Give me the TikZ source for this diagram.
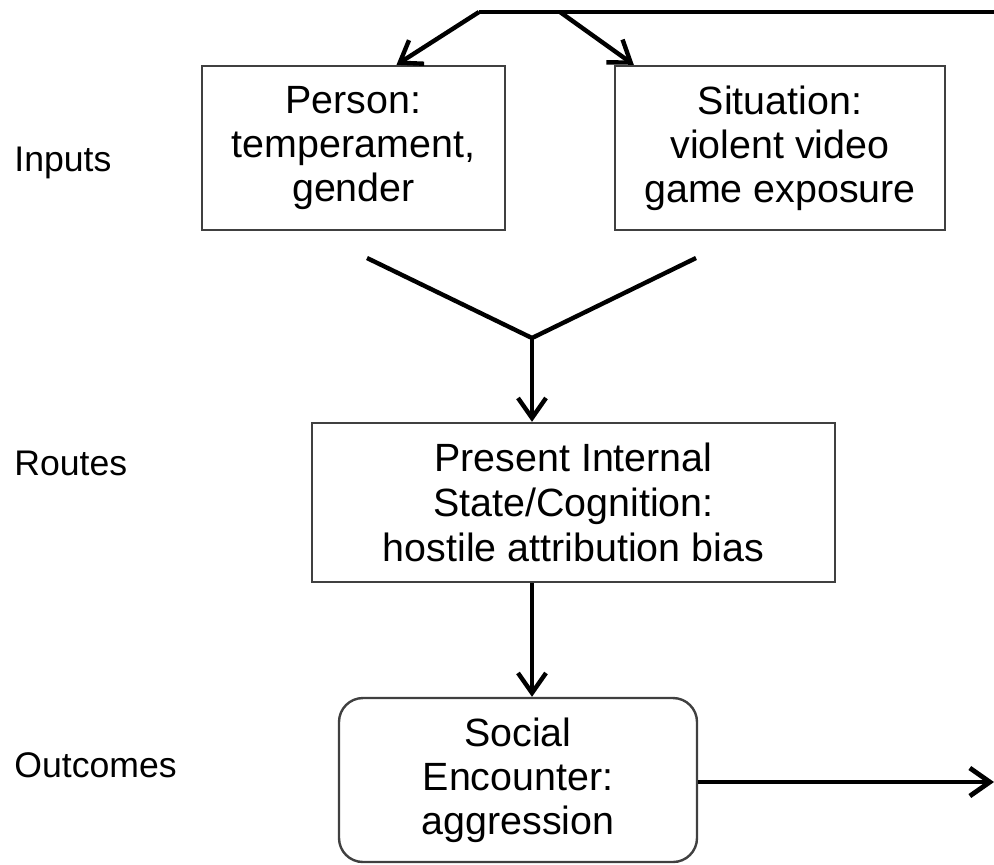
\documentclass[tikz,border=0pt]{standalone}
\usepackage{fontspec}
\setmainfont{Liberation Sans}
\usetikzlibrary{arrows.meta,calc,positioning}
\tikzstyle{inputbox} = [rectangle, minimum height=82pt, text centered, draw=black!75, line width=1.2pt, font=\fontsize{19.7}{22}\selectfont, align=center]
\tikzstyle{routebox} = [rectangle, minimum width=261.5pt, minimum height=79.5pt, text centered, draw=black!75, line width=1.2pt, font=\fontsize{19.7}{22.5}\selectfont, align=center]
\tikzstyle{outcomebox} = [rectangle, rounded corners=12pt, minimum width=179pt, minimum height=82pt, text centered, draw=black!75, line width=1.2pt, font=\fontsize{19.7}{22}\selectfont, align=center]
\tikzstyle{rowlabel} = [anchor=west, inner sep=0pt, font=\fontsize{17.8}{22}\selectfont]
\tikzstyle{arrow} = [line width=2.2pt,-{Straight Barb[length=10pt,width=14pt]}]
\tikzstyle{line} = [line width=2.2pt]

\begin{document}
\begin{tikzpicture}[x=0.5pt,y=-0.5pt]
\useasboundingbox (0,0) rectangle (994,864);

\node (person) [inputbox, minimum width=151.5pt] at (353.5,148) {Person:\\temperament,\\gender};
\node (situation) [inputbox, minimum width=165pt] at (780,148) {Situation:\\violent video\\game exposure};
\node (state) [routebox] at (573.5,502.5) {Present Internal\\State/Cognition:\\hostile attribution bias};
\node (social) [outcomebox] at (518,780) {Social\\Encounter:\\aggression};
%
\node (inputs) [rowlabel] at (14,163) {Inputs};
\node (routes) [rowlabel] at (14,463) {Routes};
\node (outcomes) [rowlabel] at (14,765) {Outcomes};
%
\coordinate (top) at (479,12);
\coordinate (branch) at (560,12);
\coordinate (topend) at (994,12);
\coordinate (vleft) at (367,258);
\coordinate (vright) at (696,258);
\coordinate (join) at (532,338);
\coordinate (outend) at (994,782);

\draw [line] (top) -- (topend);
\draw [arrow] (top) -- ([xshift=21.5pt]person.north);
\draw [arrow] (branch) -- ([xshift=10pt]situation.north west);
\draw [line] (vleft) -- (join) -- (vright);
\draw [arrow] (join) -- (join |- state.north);
\draw [arrow] (join |- state.south) -- (join |- social.north);
\draw [arrow, line width=2.4pt] (social.east |- outend) -- (outend);

\end{tikzpicture}
\end{document}
